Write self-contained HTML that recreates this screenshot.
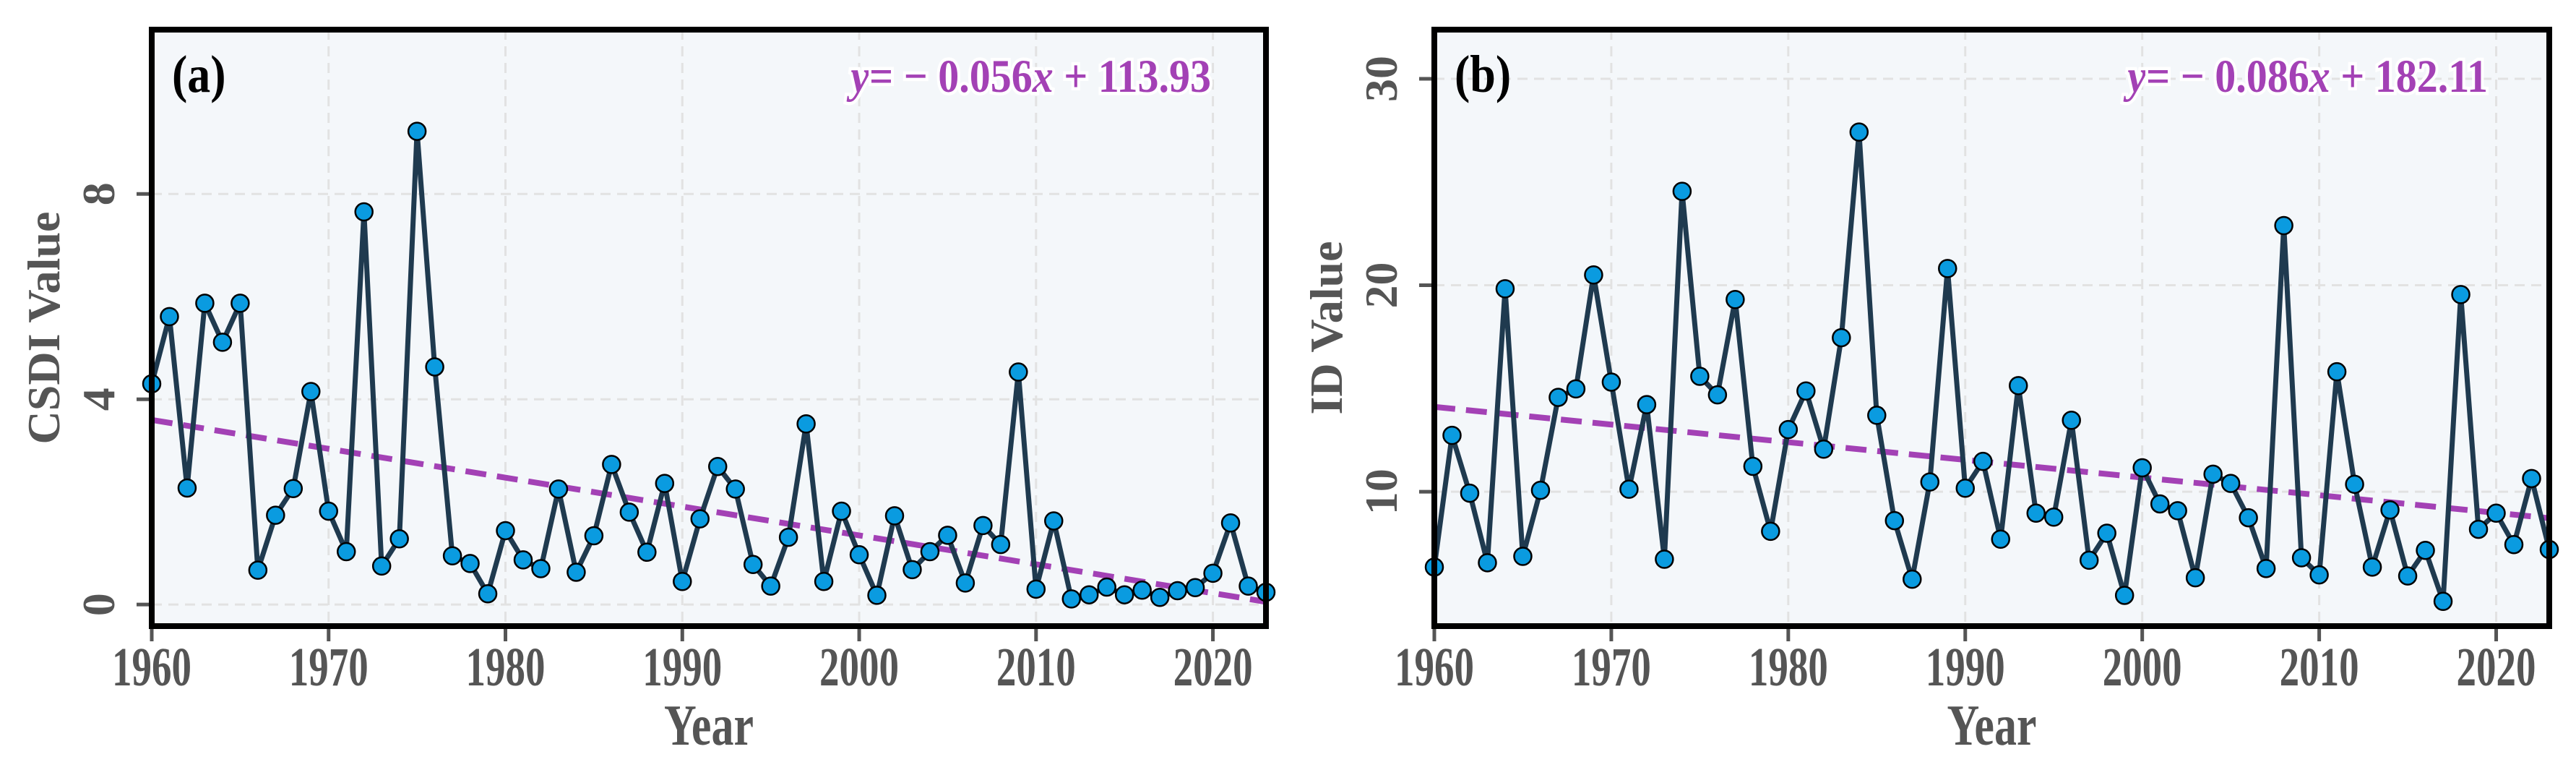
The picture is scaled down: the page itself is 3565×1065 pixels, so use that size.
<!DOCTYPE html>
<html><head><meta charset="utf-8">
<style>
html,body{margin:0;padding:0;background:#fff;}
svg{display:block;}
text{font-family:"Liberation Serif",serif;font-weight:bold;}
</style></head>
<body>
<svg id="chart" width="3565" height="1065" viewBox="0 0 3565 1065" xmlns="http://www.w3.org/2000/svg"></svg>
<script>
const years = [];
for (let y = 1960; y <= 2023; y++) years.push(y);
const csdiValues = [4.30,5.61,2.27,5.87,5.11,5.87,0.67,1.74,2.26,4.15,1.82,1.03,7.65,0.75,1.28,9.22,4.63,0.95,0.80,0.21,1.44,0.87,0.70,2.25,0.63,1.34,2.73,1.80,1.02,2.36,0.45,1.67,2.69,2.25,0.78,0.36,1.31,3.52,0.45,1.82,0.97,0.18,1.73,0.68,1.03,1.35,0.42,1.54,1.17,4.53,0.30,1.63,0.11,0.19,0.34,0.19,0.28,0.14,0.27,0.33,0.61,1.59,0.36,0.24];
const idValues = [6.35,12.73,9.93,6.56,19.83,6.87,10.07,14.57,14.98,20.50,15.31,10.12,14.22,6.73,24.55,15.59,14.69,19.31,11.23,8.08,13.01,14.88,12.06,17.46,27.42,13.70,8.60,5.76,10.47,20.81,10.17,11.47,7.70,15.14,8.96,8.77,13.46,6.68,7.99,4.98,11.16,9.41,9.08,5.83,10.85,10.40,8.74,6.28,22.89,6.80,5.97,15.81,10.36,6.35,9.12,5.92,7.16,4.69,19.55,8.18,8.96,7.44,10.64,7.20];
const xTicks = [1960,1970,1980,1990,2000,2010,2020];
const csdiTicks = [0,4,8];
const idTicks = [10,20,30];
const csdiEquation = ["y", "= \u2212 0.056", "x", " + 113.93"];
const idEquation = ["y", "= \u2212 0.086", "x", " + 182.11"];

const NS = "http://www.w3.org/2000/svg";
const svg = document.getElementById("chart");
function mk(tag, attrs, parent) {
  const e = document.createElementNS(NS, tag);
  for (const k in attrs) e.setAttribute(k, attrs[k]);
  (parent || svg).appendChild(e);
  return e;
}

function panel(cfg) {
  const g = mk("g", {});
  
  
  const L = cfg.left, R = cfg.right, T = 41, B = 866;
  const sx = v => L + (v - 1960) / (2023 - 1960) * (R - L);
  const sy = v => B - (v - cfg.ymin) / (cfg.ymax - cfg.ymin) * (B - T);
  const bg = mk("rect", {x:L, y:T, width:R-L, height:B-T, fill:"#f4f7fa"}, g);
  
  
  xTicks.forEach(t => {
    const l = mk("line", {x1:sx(t), x2:sx(t), y1:T, y2:B, stroke:"#e2e2e2", "stroke-width":3, "stroke-dasharray":"14 9"}, g);
    
    
    const tk = mk("line", {x1:sx(t), x2:sx(t), y1:B, y2:B+21, stroke:"#555", "stroke-width":5}, g);
    
    
    const tx = mk("text", {x:0, y:0, "text-anchor":"middle", "font-size":55, fill:"#555",
      transform:`translate(${sx(t)},948) scale(1,1.38)`}, g);
    tx.textContent = t;
    
    
  });
  cfg.ticks.forEach(t => {
    const l = mk("line", {x1:L, x2:R, y1:sy(t), y2:sy(t), stroke:"#e2e2e2", "stroke-width":3, "stroke-dasharray":"14 9"}, g);
    
    
    const tk = mk("line", {x1:L-21, x2:L, y1:sy(t), y2:sy(t), stroke:"#555", "stroke-width":5}, g);
    
    
    const tx = mk("text", {x:0, y:0, "text-anchor":"middle", "font-size":64, fill:"#555",
      transform:`translate(${L-52},${sy(t)}) rotate(-90)`}, g);
    tx.textContent = t;
    
    
  });
  const vals = cfg.values;
  const n = vals.length;
  const mx = years.reduce((a,b)=>a+b,0)/n, my = vals.reduce((a,b)=>a+b,0)/n;
  let sxy=0, sxx=0;
  for (let i=0;i<n;i++){sxy+=(years[i]-mx)*(vals[i]-my);sxx+=(years[i]-mx)**2;}
  const slope = sxy/sxx, icpt = my - slope*mx;
  const tr = mk("line", {x1:sx(1960), y1:sy(slope*1960+icpt), x2:sx(2023), y2:sy(slope*2023+icpt),
    stroke:"#a341b5", "stroke-width":8, "stroke-dasharray":"29 15"}, g);
  
  
  const pts = vals.map((v,i)=>sx(years[i])+","+sy(v)).join(" ");
  const pl = mk("polyline", {points:pts, fill:"none", stroke:"#1f3a4f", "stroke-width":7, "stroke-linejoin":"round"}, g);
  
  
  vals.forEach((v,i)=>{
    const c = mk("circle", {cx:sx(years[i]), cy:sy(v), r:12, fill:"#0a9be0", stroke:"#000", "stroke-width":2.5}, g);
    
    
  });
  const fr = mk("rect", {x:L, y:T, width:R-L, height:B-T, fill:"none", stroke:"#000", "stroke-width":8}, g);
  
  
  const pl2 = mk("text", {x:0, y:0, "font-size":64, fill:"#000",
    transform:`translate(${L+28},127) scale(1,1.15)`}, g);
  pl2.textContent = cfg.label;
  
  
  const eq = mk("text", {x:0, y:0, "text-anchor":"end", "font-size":58, fill:"#a341b5",
    stroke:"#fff", "stroke-width":8, "paint-order":"stroke",
    transform:`translate(${cfg.eqX},127) scale(1,1.12)`}, g);
  
  
  cfg.eq.forEach((s,i)=>{
    const ts = mk("tspan", {"font-style": (i%2===0) ? "italic" : "normal"}, eq);
    ts.textContent = s;
  });
  const xt = mk("text", {x:0, y:0, "text-anchor":"middle", "font-size":62, fill:"#555",
    transform:`translate(${(L+R)/2},1030) scale(1,1.3)`}, g);
  xt.textContent = "Year";
  
  
  const yt = mk("text", {x:0, y:0, "text-anchor":"middle", "font-size":64, fill:"#555",
    transform:`translate(${cfg.ytX},${(T+B)/2}) rotate(-90)`}, g);
  yt.textContent = cfg.ytitle;
  
  
}

panel({name:"csdi-panel", left:210, right:1752, ymin:-0.42, ymax:11.2, ticks:csdiTicks,
  values:csdiValues, label:"(a)", eq:csdiEquation, eqX:1676, ytitle:"CSDI Value", ytX:82});
panel({name:"id-panel", left:1985, right:3528, ymin:3.49, ymax:32.38, ticks:idTicks,
  values:idValues, label:"(b)", eq:idEquation, eqX:3443, ytitle:"ID Value", ytX:1857});
</script>
</body></html>
